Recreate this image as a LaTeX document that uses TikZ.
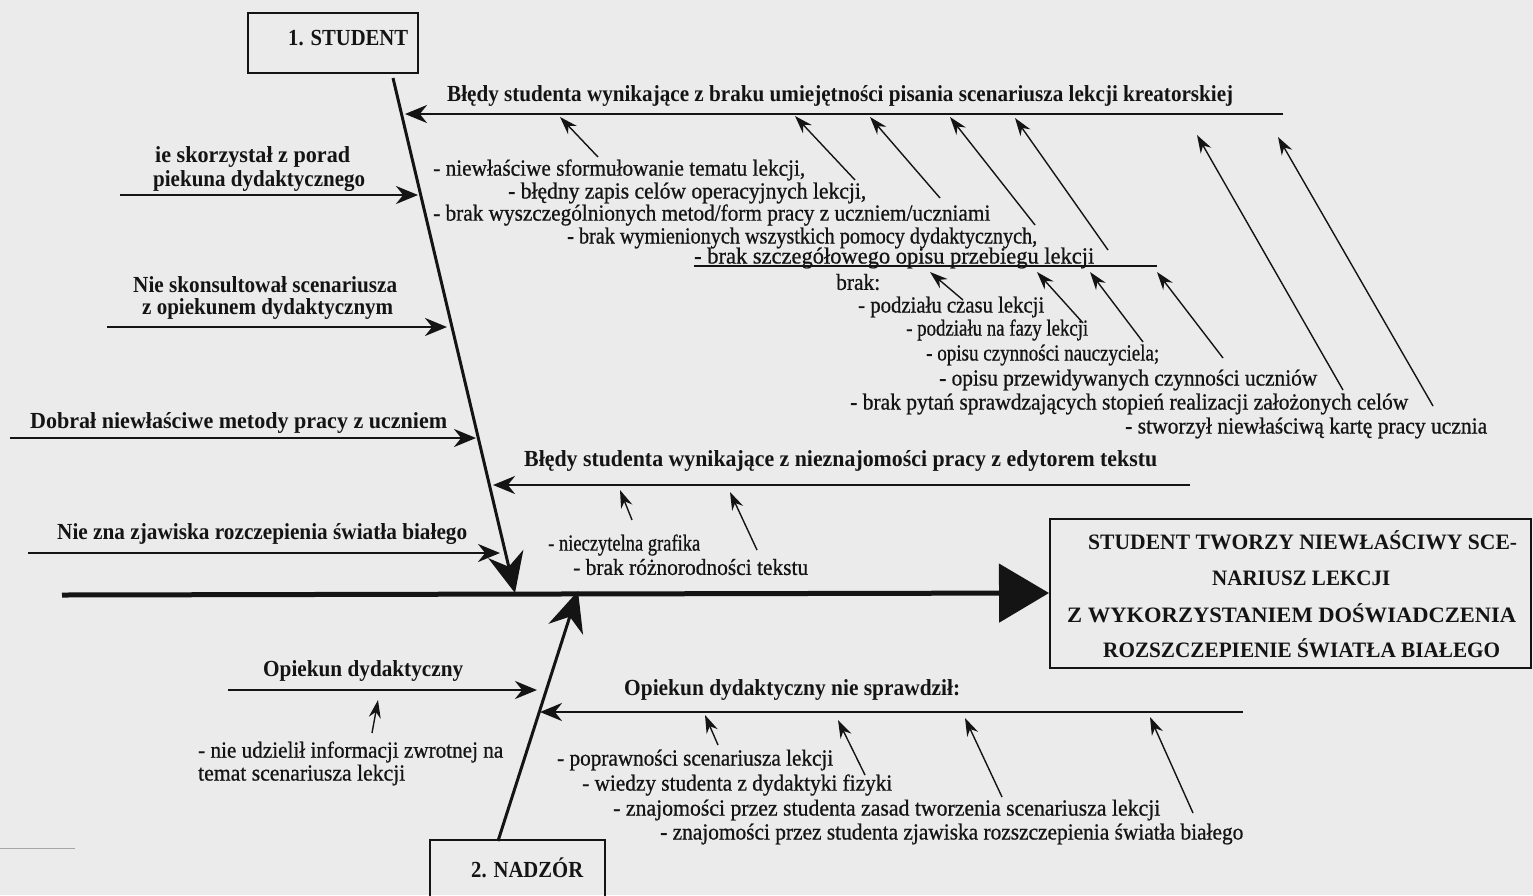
\documentclass[tikz,border=0pt]{standalone}
\usepackage{fontspec}
\setmainfont{Liberation Serif}
\newfontfamily\regfont{Liberation Serif}[BoldFont=Liberation Serif, BoldFeatures={FakeBold=0.8}]
\usetikzlibrary{arrows.meta}
\definecolor{ink}{HTML}{141414}
\definecolor{paper}{HTML}{EBEBEB}
\newcommand\fw[2]{\resizebox{#1pt}{\height}{#2}}
\begin{document}
\begin{tikzpicture}[x=1pt,y=-1pt,
  txt/.style={inner sep=0pt, anchor=west, text=ink, font=\fontsize{23}{26}\regfont\bfseries},
  btxt/.style={inner sep=0pt, anchor=west, text=ink, font=\fontsize{23}{26}\selectfont\bfseries},
  rtxt/.style={inner sep=0pt, anchor=west, text=ink, font=\fontsize{22}{25}\selectfont\bfseries},
  catbox/.style={draw=ink, line width=2pt, inner sep=0pt},
  spine/.style={draw=ink, line width=5pt, -{Triangle[length=50pt,width=58pt]}},
  bone/.style={draw=ink, line width=3pt, -{Stealth[length=40pt,width=36pt]}},
  harrow/.style={draw=ink, line width=2.8pt, -{Stealth[length=22pt,width=18pt]}},
  sarrow/.style={draw=ink, line width=1.4pt, -{Stealth[length=18pt,width=12pt]}}]
\clip (0,0) rectangle (1533,895);
\fill[paper] (0,0) rectangle (1533,895);
\useasboundingbox (0,0) rectangle (1533,895);

% category boxes and result
\node[catbox, minimum width=170pt, minimum height=60pt] (stu) at (333,43) {};
\node[btxt] (stut) at (288,38) {\fw{120}{1. STUDENT}};
\node[catbox, minimum width=175pt, minimum height=70pt] (nad) at (517.5,875) {};
\node[btxt] (nadt) at (471,868) {\fw{112}{2. NADZÓR}};
\node[draw=ink, line width=2pt, minimum width=481pt, minimum height=149pt, inner sep=0pt] (res) at (1290.5,593) {};
\node[rtxt] (r1) at (1088,540) {\fw{429}{STUDENT  TWORZY NIEWŁAŚCIWY SCE-}};
\node[rtxt] (r2) at (1212,578) {\fw{178}{NARIUSZ LEKCJI}};
\node[rtxt] (r3) at (1067,613) {\fw{449}{Z WYKORZYSTANIEM DOŚWIADCZENIA}};
\node[rtxt] (r4) at (1103,648) {\fw{397}{ROZSZCZEPIENIE ŚWIATŁA BIAŁEGO}};

% spine and bones
\coordinate (sp0) at (62,595);
\draw[spine] (sp0) -- (res.west);
\coordinate (sb0) at (393,78);
\coordinate (sb1) at (515,593);
\draw[bone] (sb0) -- (sb1);
\coordinate (nb0) at (498,841);
\coordinate (nb1) at (578,591);
\draw[bone] (nb0) -- (nb1);

% left-side causes (student)
\node[btxt] (t1a) at (155,157) {\fw{195}{ie skorzystał  z  porad}};
\node[btxt] (t1b) at (153,181) {\fw{212}{piekuna dydaktycznego}};
\coordinate (h1s) at (120,195); \coordinate (h1e) at (418,195);
\draw[harrow] (h1s) -- (h1e);
\node[btxt] (t2a) at (133,285) {\fw{264}{Nie skonsultował scenariusza}};
\node[btxt] (t2b) at (142,309) {\fw{251}{z opiekunem dydaktycznym}};
\coordinate (h2s) at (107,327); \coordinate (h2e) at (447,327);
\draw[harrow] (h2s) -- (h2e);
\node[btxt] (t3) at (30,423) {\fw{417}{Dobrał niewłaściwe metody  pracy  z  uczniem}};
\coordinate (h3s) at (10,438); \coordinate (h3e) at (476,438);
\draw[harrow] (h3s) -- (h3e);
\node[btxt] (t4) at (57,534) {\fw{410}{Nie zna zjawiska rozczepienia światła białego}};
\coordinate (h4s) at (28,553); \coordinate (h4e) at (500,553);
\draw[harrow] (h4s) -- (h4e);

% right-side cause A
\node[btxt] (ta) at (447,96) {\fw{786}{Błędy studenta wynikające z braku umiejętności pisania scenariusza lekcji kreatorskiej}};
\coordinate (as) at (1283,114); \coordinate (ae) at (405,114);
\draw[harrow] (as) -- (ae);
\node[txt] (l1) at (433,170) {\fw{372}{- niewłaściwe sformułowanie tematu lekcji,}};
\node[txt] (l2) at (508,193) {\fw{358}{- błędny zapis  celów operacyjnych lekcji,}};
\node[txt] (l3) at (433,215) {\fw{557}{- brak wyszczególnionych metod/form pracy z uczniem/uczniami}};
\node[txt] (l4) at (567,238) {\fw{470}{-  brak wymienionych wszystkich pomocy dydaktycznych,}};
\node[txt] (l5) at (694,258) {\fw{400}{- brak szczegółowego opisu przebiegu lekcji}};
\coordinate (u0) at (694,266); \coordinate (u1) at (1157,266);
\draw[ink, line width=1.8pt] (u0) -- (u1);
\node[txt] (l6) at (836,282) {\fw{44}{brak:}};
\node[txt] (l7) at (858,307) {\fw{186}{-  podziału czasu lekcji}};
\node[txt] (l8) at (906,330) {\fw{182}{- podziału na fazy lekcji}};
\node[txt] (l9) at (926,355) {\fw{233}{- opisu czynności nauczyciela;}};
\node[txt] (l10) at (939,380) {\fw{378}{- opisu przewidywanych czynności uczniów}};
\node[txt] (l11) at (850,404) {\fw{558}{- brak  pytań sprawdzających stopień realizacji założonych celów}};
\node[txt] (l12) at (1125,428) {\fw{362}{- stworzył niewłaściwą kartę  pracy ucznia}};
\coordinate (a1s) at (598,157); \coordinate (a1e) at (560,117);
\coordinate (a2s) at (855,180); \coordinate (a2e) at (795,116);
\coordinate (a3s) at (940,198); \coordinate (a3e) at (870,117);
\coordinate (a4s) at (1035,225); \coordinate (a4e) at (950,117);
\coordinate (a5s) at (1108,250); \coordinate (a5e) at (1015,118);
\coordinate (a6s) at (1343,390); \coordinate (a6e) at (1197,135);
\coordinate (a7s) at (1433,406); \coordinate (a7e) at (1278,137);
\foreach \i in {1,...,7} {\draw[sarrow] (a\i s) -- (a\i e);}
\coordinate (b1s) at (963,300); \coordinate (b1e) at (930,272);
\coordinate (b2s) at (1083,323); \coordinate (b2e) at (1037,272);
\coordinate (b3s) at (1143,342); \coordinate (b3e) at (1090,272);
\coordinate (b4s) at (1223,358); \coordinate (b4e) at (1157,272);
\foreach \i in {1,...,4} {\draw[sarrow] (b\i s) -- (b\i e);}

% right-side cause B
\node[btxt] (tb) at (524,461) {\fw{633}{Błędy  studenta wynikające z nieznajomości pracy  z  edytorem tekstu}};
\coordinate (bs) at (1190,485); \coordinate (be) at (493,485);
\draw[harrow] (bs) -- (be);
\node[txt] (e1) at (548,545) {\fw{152}{- nieczytelna grafika}};
\node[txt] (e2) at (573,567) {\fw{235}{- brak różnorodności tekstu}};
\coordinate (c1s) at (632,520); \coordinate (c1e) at (620,490);
\coordinate (c2s) at (757,550); \coordinate (c2e) at (730,492);
\foreach \i in {1,2} {\draw[sarrow] (c\i s) -- (c\i e);}

% supervision side
\node[btxt] (tn1) at (263,671) {\fw{200}{Opiekun dydaktyczny}};
\coordinate (n1s) at (228,690); \coordinate (n1e) at (537,690);
\draw[harrow] (n1s) -- (n1e);
\node[txt] (nn1) at (198,752) {\fw{305}{- nie udzielił informacji zwrotnej na}};
\node[txt] (nn2) at (198,775) {\fw{207}{temat  scenariusza lekcji}};
\coordinate (d1s) at (372,733); \coordinate (d1e) at (378,700);
\draw[sarrow] (d1s) -- (d1e);

\node[btxt] (tn2) at (624,690) {\fw{336}{Opiekun dydaktyczny nie sprawdził:}};
\coordinate (n2s) at (1243,712); \coordinate (n2e) at (540,712);
\draw[harrow] (n2s) -- (n2e);
\node[txt] (m1) at (557,760) {\fw{276}{- poprawności scenariusza lekcji}};
\node[txt] (m2) at (582,785) {\fw{310}{- wiedzy studenta z dydaktyki fizyki}};
\node[txt] (m3) at (613,810) {\fw{547}{- znajomości przez studenta  zasad tworzenia  scenariusza lekcji}};
\node[txt] (m4) at (660,834) {\fw{583}{- znajomości przez studenta zjawiska rozszczepienia światła białego}};
\coordinate (e1s) at (718,745); \coordinate (e1e) at (705,715);
\coordinate (e2s) at (865,775); \coordinate (e2e) at (838,720);
\coordinate (e3s) at (1002,797); \coordinate (e3e) at (965,718);
\coordinate (e4s) at (1193,813); \coordinate (e4e) at (1150,717);
\foreach \i in {1,...,4} {\draw[sarrow] (e\i s) -- (e\i e);}

% scan mark bottom left
\coordinate (k0) at (0,848); \coordinate (k1) at (75,848);
\draw[gray!70, line width=0.8pt] (k0) -- (k1);
\end{tikzpicture}
\end{document}
